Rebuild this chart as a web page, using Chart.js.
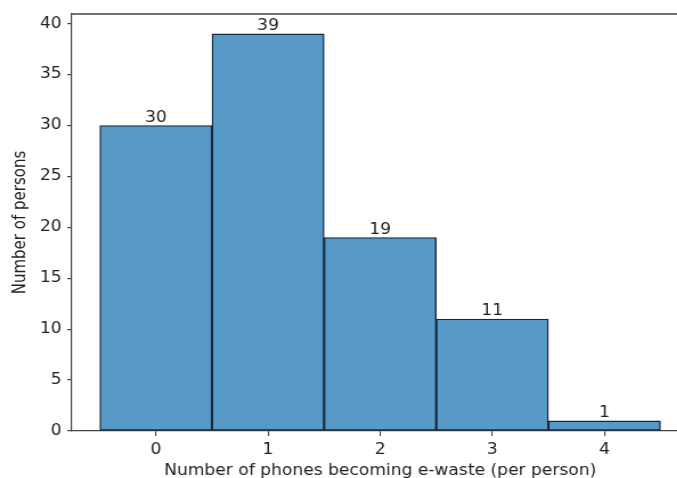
<!DOCTYPE html>
<html lang="en">
<head>
    <meta charset="UTF-8">
    <title>Phones becoming e-waste</title>
    <script src="https://cdn.jsdelivr.net/npm/chart.js"></script>
    <style>
        html, body { margin: 0; padding: 0; background: #fff; overflow: hidden; }
        /* the original picture is a little wider than tall, so stretch the canvas sideways */
        .chart-box { width: 614px; height: 478px; transform: scaleX(1.14); transform-origin: 0 0; }
    </style>
</head>
<body>
    <div class="chart-box">
        <canvas id="ewasteChart" width="614" height="478"></canvas>
    </div>

    <script>
        // histogram data
        const phoneCounts = [0, 1, 2, 3, 4];
        const persons = [30, 39, 19, 11, 1];
        const yTicks = [0, 5, 10, 15, 20, 25, 30, 35, 40];

        const textColor = "#222";
        const spineColor = "#444";
        const font = { family: "DejaVu Sans", size: 15 };

        // value labels over each bar + top spine
        const extras = {
            id: "extras",
            afterDatasetsDraw(chart) {
                const ctx = chart.ctx;
                const meta = chart.getDatasetMeta(0);
                ctx.save();
                ctx.font = "15px 'DejaVu Sans'";
                ctx.fillStyle = textColor;
                ctx.textAlign = "center";
                ctx.textBaseline = "bottom";
                meta.data.forEach((bar, i) => {
                    ctx.fillText(String(persons[i]), bar.x, bar.y);
                });
                const area = chart.chartArea;
                ctx.strokeStyle = spineColor;
                ctx.lineWidth = 1.3;
                ctx.beginPath();
                ctx.moveTo(area.left, area.top);
                ctx.lineTo(chart.width, area.top);
                ctx.stroke();
                ctx.restore();
            }
        };

        new Chart(document.getElementById("ewasteChart").getContext("2d"), {
            type: "bar",
            data: {
                datasets: [{
                    data: phoneCounts.map((c, i) => ({ x: c, y: persons[i] })),
                    backgroundColor: "#5799c7",
                    borderColor: "#17293a",
                    borderWidth: 1.4,
                    borderSkipped: false,
                    barPercentage: 1,
                    categoryPercentage: 1
                }]
            },
            options: {
                responsive: false,
                animation: false,
                layout: { padding: { top: 14, right: 10, left: 0, bottom: 0 } },
                plugins: {
                    legend: { display: false },
                    tooltip: { enabled: false }
                },
                scales: {
                    x: {
                        type: "linear",
                        offset: false,
                        min: -0.75,
                        max: 4.75,
                        afterBuildTicks: (s) => { s.ticks = phoneCounts.map(v => ({ value: v })); },
                        afterFit: (s) => { s.height = 47; },
                        grid: { display: true, offset: false, drawOnChartArea: false, tickLength: 5, color: spineColor, lineWidth: 1.1 },
                        border: { display: true, color: spineColor, width: 1.3 },
                        ticks: { color: textColor, font: font, padding: 5, maxRotation: 0 },
                        title: {
                            display: true,
                            text: "Number of phones becoming e-waste (per person)",
                            color: textColor,
                            font: font,
                            padding: { top: 0, bottom: -2 }
                        }
                    },
                    y: {
                        min: 0,
                        max: 40.95,
                        afterBuildTicks: (s) => { s.ticks = yTicks.map(v => ({ value: v })); },
                        afterFit: (s) => { s.width = 63; },
                        grid: { display: true, drawOnChartArea: false, tickLength: 4, color: spineColor, lineWidth: 1.2 },
                        border: { display: true, color: spineColor, width: 1.2 },
                        ticks: { color: textColor, font: font, padding: 5 },
                        title: {
                            display: true,
                            text: "Number of persons",
                            color: textColor,
                            font: font,
                            padding: { top: 9, bottom: 0 }
                        }
                    }
                }
            },
            plugins: [extras]
        });
    </script>
</body>
</html>
